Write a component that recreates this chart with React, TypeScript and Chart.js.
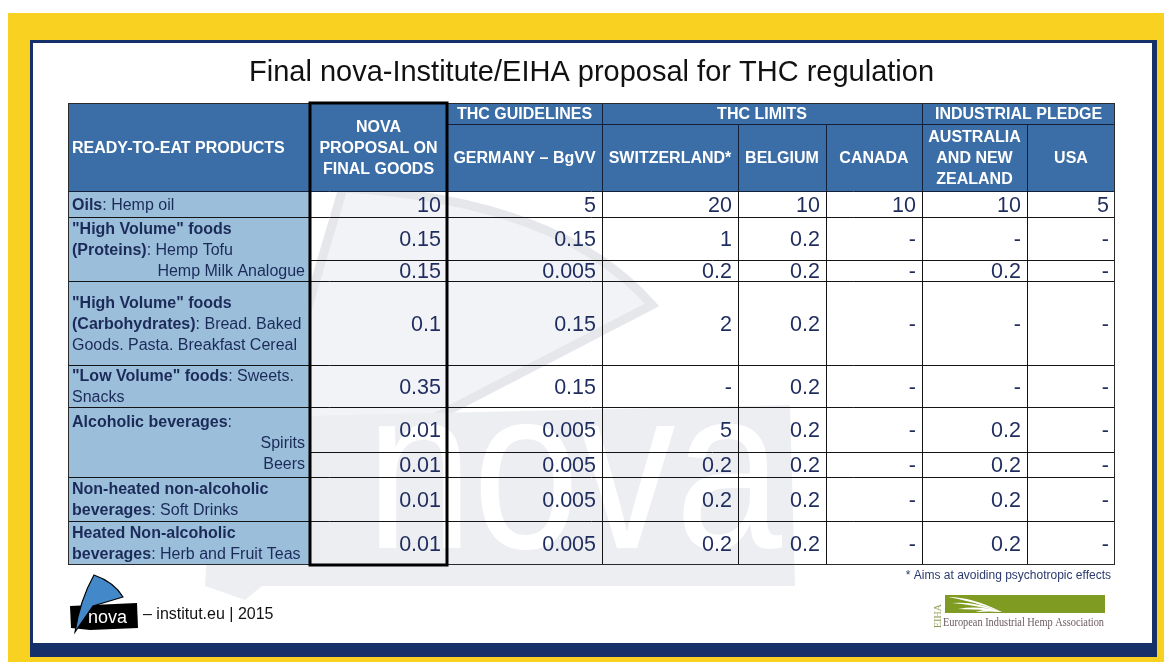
import React, { useEffect, useRef } from "react";
import { Chart, registerables } from "chart.js";

Chart.register(...registerables);

// ---------- DATA ----------
const chartTitle = "Final nova-Institute/EIHA proposal for THC regulation";
const productHeader = "READY-TO-EAT PRODUCTS";
const columnLabels = [
  ["NOVA", "PROPOSAL ON", "FINAL GOODS"],
  ["GERMANY – BgVV"],
  ["SWITZERLAND*"],
  ["BELGIUM"],
  ["CANADA"],
  ["AUSTRALIA", "AND NEW", "ZEALAND"],
  ["USA"],
];
const columnGroups = ["THC GUIDELINES", "THC LIMITS", "INDUSTRIAL PLEDGE"];
const columnGroupFirst = [1, 2, 5];
const columnGroupLast = [1, 4, 6];

type Part = [string, boolean];
type Line = { right?: boolean; parts: Part[] };
const productGroups: { rows: number[]; lines: Line[] }[] = [
  { rows: [0], lines: [{ parts: [["Oils", true], [": Hemp oil", false]] }] },
  {
    rows: [1, 2],
    lines: [
      { parts: [['"High Volume" foods', true]] },
      { parts: [["(Proteins)", true], [": Hemp Tofu", false]] },
      { right: true, parts: [["Hemp Milk Analogue", false]] },
    ],
  },
  {
    rows: [3],
    lines: [
      { parts: [['"High Volume" foods', true]] },
      { parts: [["(Carbohydrates)", true], [": Bread. Baked", false]] },
      { parts: [["Goods. Pasta. Breakfast Cereal", false]] },
    ],
  },
  {
    rows: [4],
    lines: [
      { parts: [['"Low Volume" foods', true], [": Sweets.", false]] },
      { parts: [["Snacks", false]] },
    ],
  },
  {
    rows: [5, 6],
    lines: [
      { parts: [["Alcoholic beverages", true], [":", false]] },
      { right: true, parts: [["Spirits", false]] },
      { right: true, parts: [["Beers", false]] },
    ],
  },
  {
    rows: [7],
    lines: [
      { parts: [["Non-heated non-alcoholic", true]] },
      { parts: [["beverages", true], [": Soft Drinks", false]] },
    ],
  },
  {
    rows: [8],
    lines: [
      { parts: [["Heated Non-alcoholic", true]] },
      { parts: [["beverages", true], [": Herb and Fruit Teas", false]] },
    ],
  },
];

const novaProposal = ["10", "0.15", "0.15", "0.1", "0.35", "0.01", "0.01", "0.01", "0.01"];
const germanyBgVV = ["5", "0.15", "0.005", "0.15", "0.15", "0.005", "0.005", "0.005", "0.005"];
const switzerland = ["20", "1", "0.2", "2", "-", "5", "0.2", "0.2", "0.2"];
const belgium = ["10", "0.2", "0.2", "0.2", "0.2", "0.2", "0.2", "0.2", "0.2"];
const canada = ["10", "-", "-", "-", "-", "-", "-", "-", "-"];
const australiaNZ = ["10", "-", "0.2", "-", "-", "0.2", "0.2", "0.2", "0.2"];
const usa = ["5", "-", "-", "-", "-", "-", "-", "-", "-"];
const seriesColumns = [novaProposal, germanyBgVV, switzerland, belgium, canada, australiaNZ, usa];

const footnote = "* Aims at avoiding psychotropic effects";
const credit = "– institut.eu | 2015";
const eihaName = "European Industrial Hemp Association";

// ---------- LAYOUT (sizes, not data) ----------
const colWidths = [242, 137, 155, 136, 88, 96, 105, 88];
const headerHeights = [21, 67];
const rowHeights = [26, 43, 21, 84, 42, 45, 25, 44, 44];

const FONT = "'Liberation Sans', Arial, Helvetica, sans-serif";
const SERIF = "'Liberation Serif', 'Times New Roman', serif";
const C = {
  yellow: "#f9d120",
  navy: "#16306a",
  headBlue: "#3b6ea6",
  labelBlue: "#9bbfdb",
  labelText: "#1c2a58",
  valueText: "#1f2c5e",
  line: "#141414",
  wm: "#eceef2",
  wmSail: "#f2f3f6",
  wmStroke: "#e5e7eb",
};

const cum = (arr: number[]) => {
  const out = [0];
  arr.forEach((v) => out.push(out[out.length - 1] + v));
  return out;
};

function drawParts(ctx: CanvasRenderingContext2D, parts: Part[], x: number, y: number, right: boolean, size: number) {
  const fonts = parts.map(([, b]) => `${b ? "bold " : ""}${size}px ${FONT}`);
  const widths = parts.map(([t], i) => {
    ctx.font = fonts[i];
    return ctx.measureText(t).width;
  });
  let cx = right ? x - widths.reduce((a, b) => a + b, 0) : x;
  ctx.textAlign = "left";
  parts.forEach(([t], i) => {
    ctx.font = fonts[i];
    ctx.fillText(t, cx, y);
    cx += widths[i];
  });
}

function drawFrame(ctx: CanvasRenderingContext2D, w: number, h: number) {
  ctx.fillStyle = "#ffffff";
  ctx.fillRect(0, 0, w, h);
  ctx.fillStyle = C.yellow;
  ctx.fillRect(8, 13, w - 8, h - 13);
  ctx.fillStyle = C.navy;
  ctx.fillRect(30, 40, 1127, 617);
  ctx.fillStyle = "#ffffff";
  ctx.fillRect(33, 43, 1119, 600);
}

function drawWatermark(ctx: CanvasRenderingContext2D) {
  // sail
  ctx.beginPath();
  ctx.moveTo(228, 578);
  ctx.lineTo(343, 188);
  ctx.quadraticCurveTo(560, 200, 652, 305);
  ctx.lineTo(430, 420);
  ctx.closePath();
  ctx.fillStyle = C.wmSail;
  ctx.fill();
  ctx.lineWidth = 9;
  ctx.strokeStyle = C.wmStroke;
  ctx.stroke();
  // box
  ctx.fillStyle = C.wm;
  ctx.beginPath();
  ctx.moveTo(215, 418);
  ctx.lineTo(790, 405);
  ctx.lineTo(795, 586);
  ctx.lineTo(262, 586);
  ctx.lineTo(245, 600);
  ctx.lineTo(205, 586);
  ctx.closePath();
  ctx.fill();
  // letters
  ctx.fillStyle = "#ffffff";
  ctx.font = `230px ${FONT}`;
  ctx.textAlign = "left";
  ctx.textBaseline = "alphabetic";
  ctx.fillText("nova", 366, 548, 416);
}

function drawLogos(ctx: CanvasRenderingContext2D) {
  // nova logo: black box
  ctx.fillStyle = "#000";
  ctx.beginPath();
  ctx.moveTo(70, 606);
  ctx.lineTo(137, 603);
  ctx.lineTo(138, 628);
  ctx.lineTo(90, 630);
  ctx.lineTo(71, 628);
  ctx.closePath();
  ctx.fill();
  // sail
  ctx.beginPath();
  ctx.moveTo(94, 575);
  ctx.quadraticCurveTo(114, 582, 123, 597);
  ctx.lineTo(93, 606);
  ctx.lineTo(75, 632);
  ctx.quadraticCurveTo(80, 600, 94, 575);
  ctx.closePath();
  ctx.fillStyle = "#4389c9";
  ctx.fill();
  ctx.lineWidth = 1.2;
  ctx.strokeStyle = "#000";
  ctx.stroke();
  ctx.fillStyle = "#fff";
  ctx.font = `18px ${FONT}`;
  ctx.textAlign = "left";
  ctx.fillText("nova", 88, 623, 45);

  ctx.fillStyle = "#111";
  ctx.font = `16px ${FONT}`;
  ctx.fillText(credit, 143, 619);

  // EIHA logo
  ctx.fillStyle = "#7f9b22";
  ctx.fillRect(945, 595, 160, 18);
  ctx.fillStyle = "#ffffff";
  const blades: [number, number, number, number][] = [
    [948, 597, 972, 600],
    [952, 603, 975, 604],
    [958, 609, 980, 608],
    [975, 612, 990, 610],
  ];
  blades.forEach(([x1, y1, cx, cy]) => {
    ctx.beginPath();
    ctx.moveTo(x1, y1);
    ctx.quadraticCurveTo(cx, cy - 3, 1002, 612);
    ctx.quadraticCurveTo(cx, cy + 1, x1, y1);
    ctx.fill();
  });
  ctx.save();
  ctx.translate(941, 628);
  ctx.rotate(-Math.PI / 2);
  ctx.fillStyle = "#8b9a55";
  ctx.font = `10px ${SERIF}`;
  ctx.textAlign = "left";
  ctx.fillText("EIHA", 0, 0, 34);
  ctx.restore();
  ctx.fillStyle = "#6b5a62";
  ctx.font = `12.5px ${SERIF}`;
  ctx.fillText(eihaName, 943, 626, 161);
}

const tablePlugin = {
  id: "thcTable",
  beforeDraw(chart: any) {
    const ctx: CanvasRenderingContext2D = chart.ctx;
    ctx.save();
    drawFrame(ctx, chart.width, chart.height);
    drawWatermark(ctx);
    ctx.restore();
  },
  afterDraw(chart: any) {
    const ctx: CanvasRenderingContext2D = chart.ctx;
    const xs = chart.scales.x;
    const ys = chart.scales.y;
    const X = cum(colWidths).map((v) => Math.round(xs.getPixelForValue(v)));
    const Y = cum([...headerHeights, ...rowHeights]).map((v) => Math.round(ys.getPixelForValue(v)));
    const nCols = colWidths.length;
    const L = X[0], R = X[nCols], T = Y[0], B = Y[Y.length - 1];
    const hTop = Y[0], hMid = Y[1], hBot = Y[2];
    ctx.save();

    // fills
    ctx.fillStyle = C.headBlue;
    ctx.fillRect(L, hTop, R - L, hBot - hTop);
    ctx.fillStyle = C.labelBlue;
    ctx.fillRect(L, hBot, X[1] - L, B - hBot);

    // lines
    const hline = (x1: number, x2: number, y: number) => {
      ctx.beginPath();
      ctx.moveTo(x1, y + 0.5);
      ctx.lineTo(x2, y + 0.5);
      ctx.stroke();
    };
    const vline = (x: number, y1: number, y2: number) => {
      ctx.beginPath();
      ctx.moveTo(x + 0.5, y1);
      ctx.lineTo(x + 0.5, y2);
      ctx.stroke();
    };
    ctx.lineWidth = 1;
    ctx.strokeStyle = "#13213c";
    hline(X[2], R, hMid);
    columnGroupFirst.forEach((f) => vline(X[f + 1], hTop, hMid));
    for (let c = 2; c < nCols; c++) vline(X[c], hMid, hBot);
    hline(L, R, hBot);

    ctx.strokeStyle = C.line;
    for (let c = 1; c < nCols; c++) vline(X[c], hBot, B);
    const groupStarts = new Set(productGroups.map((g) => g.rows[0]));
    for (let r = 1; r < rowHeights.length; r++) {
      const y = Y[2 + r];
      hline(groupStarts.has(r) ? L : X[1], R, y);
    }
    ctx.strokeStyle = "#2a2a2a";
    ctx.strokeRect(L + 0.5, T + 0.5, R - L - 1, B - T - 1);

    // NOVA thick frame
    ctx.lineWidth = 3;
    ctx.strokeStyle = "#000";
    ctx.strokeRect(X[1], T, X[2] - X[1], B - T);

    // header texts
    const lh = 21;
    const capB = 0.716 * 16 / 2;
    ctx.fillStyle = "#ffffff";
    ctx.font = `bold 16px ${FONT}`;
    ctx.textAlign = "left";
    ctx.textBaseline = "alphabetic";
    ctx.fillText(productHeader, L + 4, (hTop + hBot) / 2 + capB);
    ctx.textAlign = "center";
    columnGroups.forEach((g, i) => {
      const cx = (X[columnGroupFirst[i] + 1] + X[columnGroupLast[i] + 2]) / 2;
      ctx.fillText(g, cx, (hTop + hMid) / 2 + capB);
    });
    columnLabels.forEach((lines, i) => {
      const c = i + 1;
      const cx = (X[c] + X[c + 1]) / 2;
      const top = i === 0 ? hTop : hMid;
      const cy = (top + hBot) / 2;
      lines.forEach((ln, k) => {
        const y = cy + (k - (lines.length - 1) / 2) * lh + capB;
        ctx.fillText(ln, cx, y);
      });
    });

    // product labels
    ctx.fillStyle = C.labelText;
    productGroups.forEach((g) => {
      const y0 = Y[2 + g.rows[0]];
      const y1 = Y[2 + g.rows[g.rows.length - 1] + 1];
      const cy = (y0 + y1) / 2;
      g.lines.forEach((ln, k) => {
        const y = cy + (k - (g.lines.length - 1) / 2) * lh + capB;
        drawParts(ctx, ln.parts, ln.right ? X[1] - 5 : L + 4, y, !!ln.right, 16);
      });
    });

    // values
    const vSize = 21.5;
    ctx.fillStyle = C.valueText;
    ctx.font = `${vSize}px ${FONT}`;
    ctx.textAlign = "right";
    seriesColumns.forEach((vals, i) => {
      const c = i + 1;
      vals.forEach((v, r) => {
        const cy = (Y[2 + r] + Y[3 + r]) / 2;
        ctx.fillText(v, X[c + 1] - 6, cy + (0.716 * vSize) / 2);
      });
    });

    // footnote
    ctx.fillStyle = "#2b3a6e";
    ctx.font = `12px ${FONT}`;
    ctx.textAlign = "right";
    ctx.fillText(footnote, R - 4, B + 14);

    ctx.textAlign = "left";
    drawLogos(ctx);
    ctx.restore();
  },
};

export default function App() {
  const ref = useRef<HTMLCanvasElement>(null);
  useEffect(() => {
    const canvas = ref.current;
    if (!canvas) return;
    const totalW = colWidths.reduce((a, b) => a + b, 0);
    const totalH = [...headerHeights, ...rowHeights].reduce((a, b) => a + b, 0);
    const chart = new Chart(canvas, {
      type: "scatter",
      data: { datasets: [] },
      options: {
        responsive: false,
        devicePixelRatio: 1,
        animation: false,
        events: [],
        layout: { padding: { left: 68, right: 49, top: 50, bottom: 97 } },
        plugins: {
          legend: { display: false },
          tooltip: { enabled: false },
          title: {
            display: true,
            text: chartTitle,
            color: "#111",
            font: { family: FONT, size: 29, weight: "normal", lineHeight: 1.2 },
            padding: { top: 6, bottom: 12.2 },
          },
        },
        scales: {
          x: { type: "linear", min: 0, max: totalW, display: false },
          y: { type: "linear", min: 0, max: totalH, reverse: true, display: false },
        },
      },
      plugins: [tablePlugin],
    } as any);
    return () => chart.destroy();
  }, []);
  return (
    <div style={{ position: "absolute", left: 0, top: 0, width: 1164, height: 662 }}>
      <canvas ref={ref} width={1164} height={662} style={{ display: "block", width: 1164, height: 662 }} />
    </div>
  );
}
